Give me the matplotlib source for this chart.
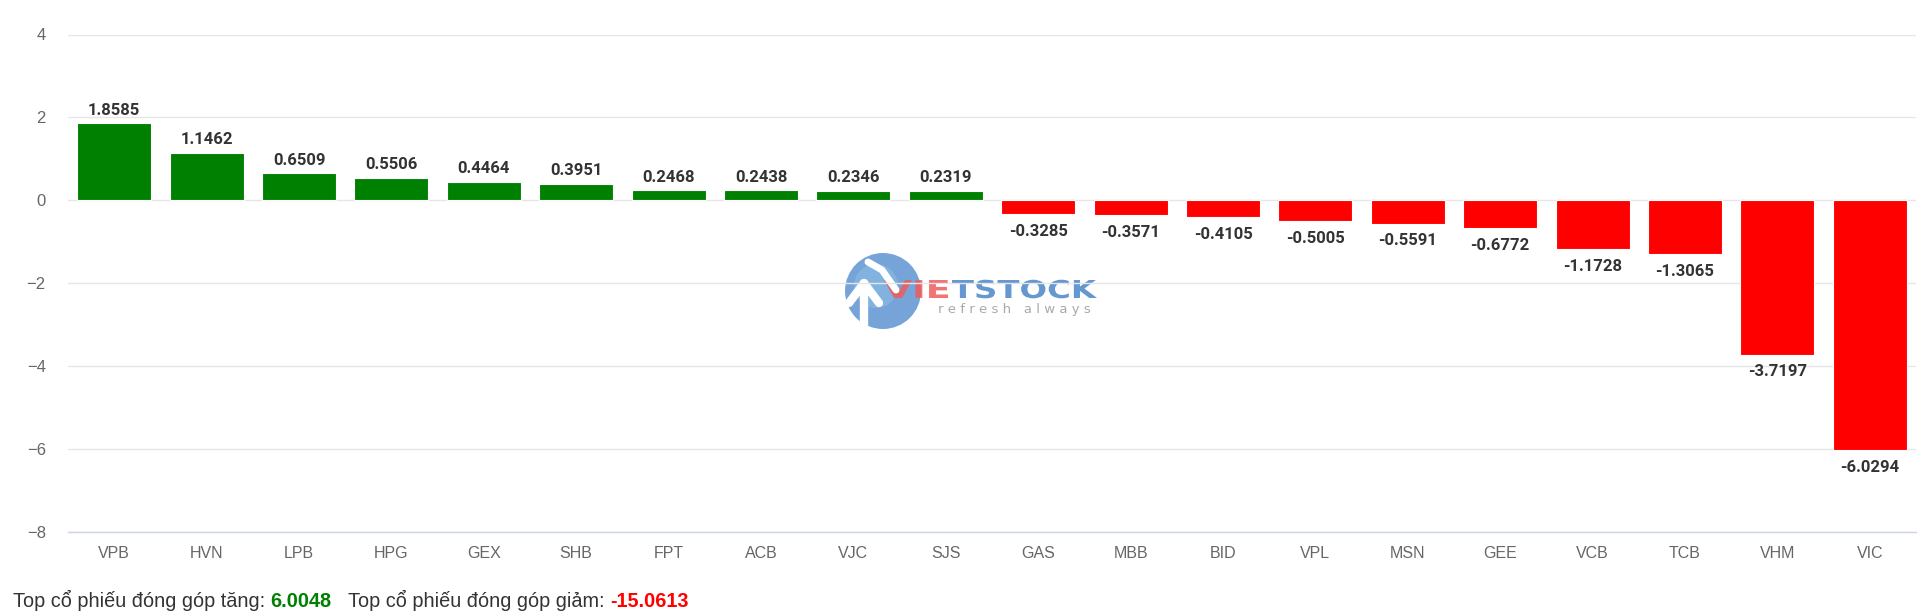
import matplotlib
matplotlib.use("Agg")
import matplotlib.pyplot as plt
from matplotlib.patches import Circle, PathPatch
from matplotlib.textpath import TextPath
from matplotlib.font_manager import FontProperties
from matplotlib.transforms import Affine2D

# data
tickers = ["VPB", "HVN", "LPB", "HPG", "GEX", "SHB", "FPT", "ACB", "VJC", "SJS",
           "GAS", "MBB", "BID", "VPL", "MSN", "GEE", "VCB", "TCB", "VHM", "VIC"]
values = [1.8585, 1.1462, 0.6509, 0.5506, 0.4464, 0.3951, 0.2468, 0.2438, 0.2346, 0.2319,
          -0.3285, -0.3571, -0.4105, -0.5005, -0.5591, -0.6772, -1.1728, -1.3065, -3.7197, -6.0294]
y_ticks = [4, 2, 0, -2, -4, -6, -8]

GREEN = "#008000"
RED = "#ff0000"
W, H = 1920, 616

fig = plt.figure(figsize=(W / 100, H / 100), dpi=100)

# watermark layer, pixel coords (y measured from the top)
lax = fig.add_axes([0, 0, 1, 1], zorder=0)
lax.set_xlim(0, W)
lax.set_ylim(0, H)
lax.axis("off")


def py(y):
    return H - y


lax.add_patch(Circle((883, py(291)), 38, color="#5f94d2", alpha=0.85, lw=0))
lax.add_patch(Circle((876, py(286)), 22, color="#8ec0e8", alpha=0.5, lw=0))
lax.plot([849, 864, 879], [py(303), py(283), py(303)], color="white", lw=6,
         solid_capstyle="round", solid_joinstyle="round")
lax.plot([864, 864], [py(283), py(326)], color="white", lw=6, solid_capstyle="round")
lax.plot([868, 882, 896], [py(262), py(270), py(290)], color="white", lw=5,
         solid_capstyle="round")

fp = FontProperties(family="DejaVu Sans", weight="bold")


def stretched(txt, x0, y_base, w, h, color):
    tp = TextPath((0, 0), txt, prop=fp, size=1)
    ext = tp.get_extents()
    tr = Affine2D().translate(-ext.x0, 0).scale(w / ext.width, h / 0.73).translate(x0, py(y_base))
    lax.add_patch(PathPatch(tr.transform_path(tp), color=color, lw=0, alpha=0.85))


stretched("VIE", 884, 298, 64, 18, "#f05a5a")
stretched("TSTOCK", 952, 298, 145, 18, "#4a86c8")
lax.text(1014, py(309), "r e f r e s h   a l w a y s", color="#a0a0a0", fontsize=9.5,
         ha="center", va="center", family="DejaVu Sans", alpha=0.9)

# main chart
ax = fig.add_axes([68 / W, 1 - 532 / H, (1916 - 68) / W, (532 - 34.5) / H], zorder=1)
ax.set_facecolor("none")

x = range(len(tickers))
colors = [GREEN if v >= 0 else RED for v in values]
bars = ax.bar(x, values, width=0.8, color=colors, edgecolor="white", linewidth=0.8, zorder=3)

for b, v in zip(bars, values):
    if v >= 0:
        ax.annotate(f"{v:.4f}", (b.get_x() + b.get_width() / 2, v), xytext=(0, 4),
                    textcoords="offset points", ha="center", va="bottom",
                    fontsize=12, fontweight="bold", color="#333333", family="Roboto")
    else:
        ax.annotate(f"{v:.4f}", (b.get_x() + b.get_width() / 2, v), xytext=(0, -7),
                    textcoords="offset points", ha="center", va="top",
                    fontsize=12, fontweight="bold", color="#333333", family="Roboto")

ax.set_xlim(-0.5, len(tickers) - 0.5)
ax.set_ylim(-8, 4)
ax.set_yticks(y_ticks)
ax.set_yticklabels([str(t).replace("-", "\u2212") for t in y_ticks])
ax.set_xticks(list(x))
ax.set_xticklabels(tickers)
ax.tick_params(axis="y", length=0, pad=16, labelsize=12, labelcolor="#666666")
ax.tick_params(axis="x", length=0, pad=10, labelsize=11.5, labelcolor="#666666")
for lab in ax.get_xticklabels() + ax.get_yticklabels():
    lab.set_family("Liberation Sans")

ax.grid(axis="y", color="#e6e6e6", lw=1, zorder=0)
for s in ["top", "right", "left"]:
    ax.spines[s].set_visible(False)
ax.spines["bottom"].set_color("#ccd6eb")
ax.spines["bottom"].set_linewidth(1)

# footer
pos_total = sum(v for v in values if v > 0)
neg_total = sum(v for v in values if v < 0)
fkw = dict(fontsize=14.3, family="Liberation Sans")
t1 = fig.text(13 / W, 1 - 607 / H, "Top cổ phiếu đóng góp tăng:", color="#333333",
              va="baseline", **fkw)
t2 = lax.annotate(f"{pos_total:.4f}", xy=(1, 0), xycoords=t1, xytext=(4, 0),
                  textcoords="offset points", color=GREEN, fontweight="bold", va="bottom", **fkw)
t3 = lax.annotate("Top cổ phiếu đóng góp giảm:", xy=(1, 0), xycoords=t2, xytext=(12, 0),
                  textcoords="offset points", color="#333333", va="bottom", **fkw)
lax.annotate(f"{neg_total:.4f}", xy=(1, 0), xycoords=t3, xytext=(4, 0),
             textcoords="offset points", color=RED, fontweight="bold", va="bottom", **fkw)

fig.savefig("out.png", dpi=100)
